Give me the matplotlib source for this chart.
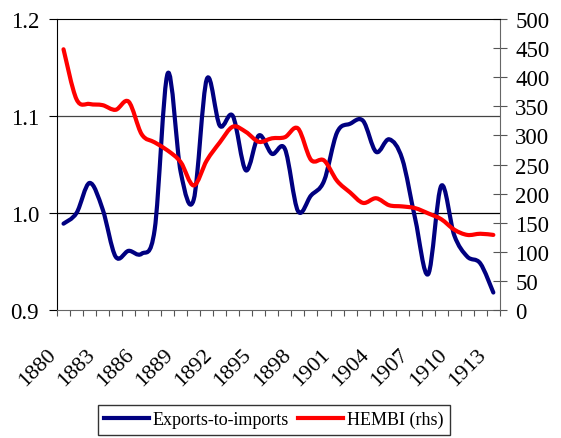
import numpy as np
import matplotlib.pyplot as plt
from matplotlib.path import Path
from matplotlib.patches import PathPatch
from matplotlib.transforms import ScaledTranslation, blended_transform_factory

plt.rcParams['font.family'] = ['Liberation Serif', 'DejaVu Serif']

years = list(range(1880, 1914))

exports_to_imports = [0.989, 1.000, 1.031, 1.004, 0.955, 0.961, 0.958, 0.983,
                      1.144, 1.042, 1.014, 1.138, 1.090, 1.100, 1.044, 1.080,
                      1.061, 1.066, 1.002, 1.018, 1.033, 1.083, 1.092, 1.095,
                      1.063, 1.076, 1.056, 0.994, 0.937, 1.028, 0.977, 0.955,
                      0.948, 0.918]

hembi = [448, 362, 354, 352, 344, 358, 302, 288, 274, 254, 214, 257, 288, 315,
         306, 289, 295, 297, 312, 258, 257, 222, 202, 184, 192, 180, 178, 175,
         166, 156, 138, 129, 131, 129]

year_labels = [str(y) for y in years[::3]]


def smooth_path(xs, ys):
    """
    Excel style smoothed line: cubic bezier through every point.
    """
    pts = np.column_stack([xs, ys]).astype(float)
    n = len(pts)
    verts = [pts[0]]
    codes = [Path.MOVETO]
    for i in range(n - 1):
        p0 = pts[max(i - 1, 0)]
        p1 = pts[i]
        p2 = pts[i + 1]
        p3 = pts[min(i + 2, n - 1)]
        c1 = p1 + (p2 - p0) / 6.0
        c2 = p2 - (p3 - p1) / 6.0
        verts += [c1, c2, p2]
        codes += [Path.CURVE4] * 3
    return Path(verts, codes)


fig = plt.figure(figsize=(5.61, 4.39), dpi=100)
ax = fig.add_axes([0.1016, 0.2916, 0.7894, 0.6628])
ax2 = ax.twinx()

x = np.arange(len(years))

ax.axhline(1.0, color='black', lw=0.9, zorder=1)
ax.axhline(1.1, color='#444444', lw=0.9, zorder=1)

ax.add_patch(PathPatch(smooth_path(x, exports_to_imports), facecolor='none',
                       edgecolor='#000080', lw=3, capstyle='round',
                       joinstyle='round', zorder=3))
ax2.add_patch(PathPatch(smooth_path(x, hembi), facecolor='none',
                        edgecolor='#FF0000', lw=3, capstyle='round',
                        joinstyle='round', zorder=3))

# dummy handles for legend
ln1, = ax.plot([], [], color='#000080', lw=3, label='Exports-to-imports')
ln2, = ax.plot([], [], color='#FF0000', lw=3, label='HEMBI (rhs)')

ax.set_xlim(-0.5, len(years) - 0.5)
ax.set_ylim(0.9, 1.2)
ax2.set_ylim(0, 500)

ax.set_yticks([0.9, 1.0, 1.1, 1.2])
ax.set_yticklabels(['0.9', '1.0', '1.1', '1.2'])
ax2.set_yticks(range(0, 501, 50))

# category ticks sit between the years, labels every third year
ax.set_xticks(np.arange(-0.5, len(years), 1.0))
ax.set_xticklabels([])
ax.tick_params(axis='x', length=4, direction='out', color='#555555')

lab_trans = blended_transform_factory(ax.transData, ax.transAxes) + \
    ScaledTranslation(-10 / 100, -41 / 100, fig.dpi_scale_trans)
for xi, lab in zip(x[::3], year_labels):
    ax.text(xi, 0, lab, transform=lab_trans, rotation=45, ha='right',
            va='center', rotation_mode='anchor', fontsize=16)

ax.tick_params(axis='y', length=6, direction='out', labelsize=16.5, pad=7)
ax2.tick_params(axis='y', length=10, direction='inout', labelsize=16.5,
                pad=6, color='#555555')

for s in ['left', 'right', 'top', 'bottom']:
    ax.spines[s].set_visible(False)
    ax2.spines[s].set_visible(False)
ax2.spines['right'].set_visible(True)
ax2.spines['right'].set_color('#666666')
ax2.spines['top'].set_visible(True)
ax2.spines['top'].set_color('black')
ax.spines['left'].set_visible(True)
ax.spines['left'].set_color('black')
ax.spines['bottom'].set_visible(True)
ax.spines['bottom'].set_color('#666666')

leg = fig.legend(handles=[ln1, ln2], loc='center', ncol=2,
                 bbox_to_anchor=(0.488, 0.042), frameon=True, fancybox=False,
                 edgecolor='black', fontsize=13, handlelength=2.5,
                 columnspacing=0.5, handletextpad=0.2, borderpad=0.35,
                 borderaxespad=0)
leg.get_frame().set_linewidth(1.0)

fig.savefig('out.png', dpi=100)
